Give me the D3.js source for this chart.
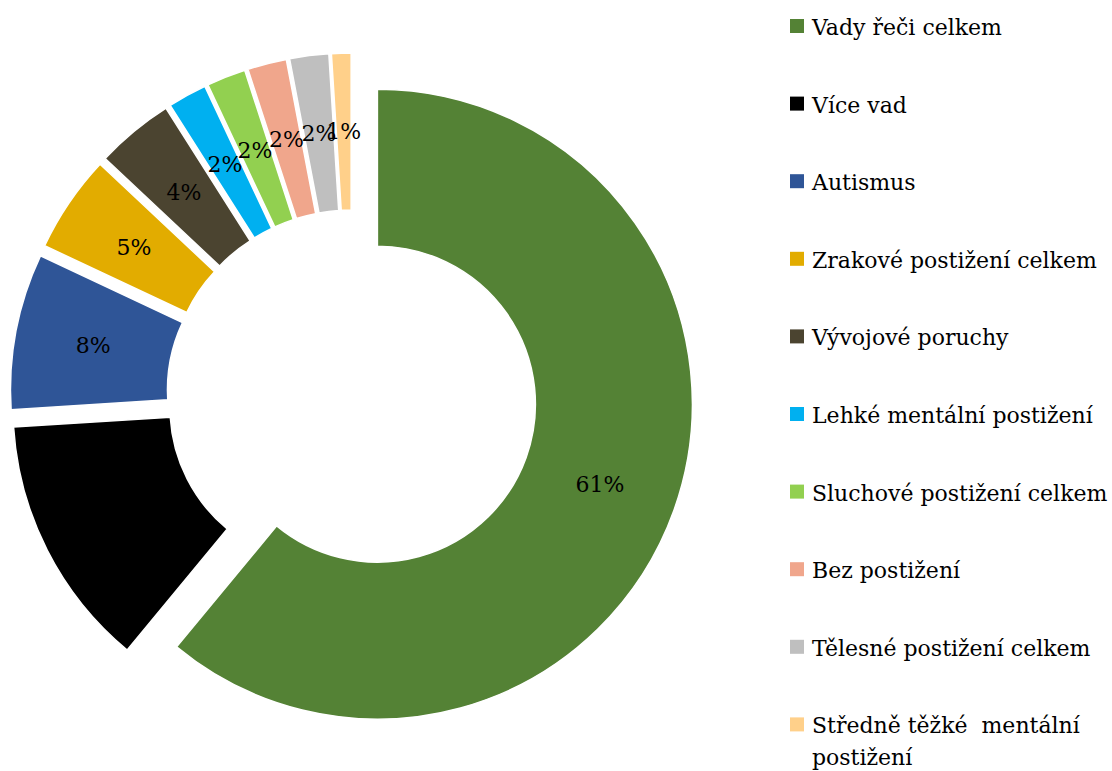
<!DOCTYPE html>
<html>
<head>
<meta charset="utf-8">
<script src="https://cdn.jsdelivr.net/npm/d3@7"></script>
<style>
  body { margin: 0; background: #fff; }
  text { font-family: "DejaVu Serif", "Liberation Serif", serif; fill: #000; }
</style>
</head>
<body>
<div id="chart"></div>
<script>
// data (percent of total), clockwise from 12 o'clock
var categories = [
  "Vady řeči celkem",
  "Více vad",
  "Autismus",
  "Zrakové postižení celkem",
  "Vývojové poruchy",
  "Lehké mentální postižení",
  "Sluchové postižení celkem",
  "Bez postižení",
  "Tělesné postižení celkem",
  "Středně těžké  mentální postižení"
];
var values = [61, 13, 8, 5, 4, 2, 2, 2, 2, 1];
var colors = ["#548235", "#000000", "#2F5597", "#E2AC00", "#4B4430",
              "#00B0F0", "#92D050", "#F0A68C", "#BFBFBF", "#FFD08A"];

var width = 1112, height = 771;
var center = { x: 352, y: 395 };
var outerR = 315, innerR = 158, explode = 27;

var svg = d3.select("#chart")
  .append("svg")
  .attr("width", width)
  .attr("height", height);

var pie = d3.pie().sort(null).value(d => d)(values);
var arc = d3.arc().innerRadius(innerR).outerRadius(outerR);

// exploded slice offset along its bisector
function offset(d) {
  var a = (d.startAngle + d.endAngle) / 2;
  return [explode * Math.sin(a), -explode * Math.cos(a)];
}

var slices = svg.append("g")
  .attr("transform", "translate(" + [center.x, center.y] + ")")
  .selectAll(".slice")
  .data(pie)
  .enter()
  .append("g")
  .attr("class", "slice")
  .attr("transform", d => "translate(" + offset(d) + ")");

slices.append("path")
  .attr("d", arc)
  .attr("fill", (d, i) => colors[i])
  .attr("stroke", "#fff")
  .attr("stroke-width", 1.5);

slices.append("text")
  .attr("transform", d => "translate(" + arc.centroid(d) + ")")
  .attr("text-anchor", "middle")
  .attr("dy", "0.35em")
  .style("font-size", "22px")
  .text(d => d.value + "%");

// legend
var legend = { x: 790, y: 26, step: 77.6, box: 14, textX: 812 };
var items = svg.append("g")
  .selectAll(".legend")
  .data(categories)
  .enter()
  .append("g")
  .attr("class", "legend")
  .attr("transform", (d, i) => "translate(" + [legend.x, legend.y + i * legend.step] + ")");

items.append("rect")
  .attr("x", 0)
  .attr("y", -legend.box / 2)
  .attr("width", legend.box)
  .attr("height", legend.box)
  .attr("fill", (d, i) => colors[i]);

items.append("text")
  .attr("x", legend.textX - legend.x)
  .attr("y", 9)
  .style("font-size", "22px")
  .style("white-space", "pre")
  .each(function(d) {
    var lines = d === categories[9] ? ["Středně těžké  mentální", "postižení"] : [d];
    var t = d3.select(this);
    lines.forEach((l, j) => {
      t.append("tspan")
        .attr("x", legend.textX - legend.x)
        .attr("dy", j === 0 ? 0 : 32)
        .text(l);
    });
  });
</script>
</body>
</html>
